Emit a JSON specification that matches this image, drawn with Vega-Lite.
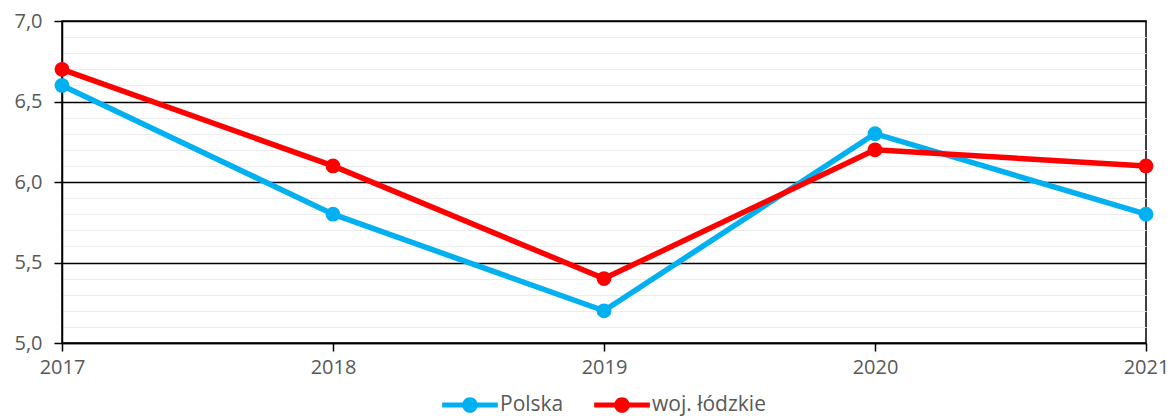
{
  "$schema": "https://vega.github.io/schema/vega-lite/v6.json",
  "width": 1084,
  "height": 322,
  "autosize": "none",
  "padding": {"left": 62, "top": 21, "right": 29, "bottom": 73},
  "background": "white",
  "config": {
    "view": {"stroke": "black", "strokeWidth": 1.5},
    "font": "Open Sans"
  },
  "data": {
    "values": [
      {"rok": 2017, "seria": "Polska", "wartosc": 6.6},
      {"rok": 2018, "seria": "Polska", "wartosc": 5.8},
      {"rok": 2019, "seria": "Polska", "wartosc": 5.2},
      {"rok": 2020, "seria": "Polska", "wartosc": 6.3},
      {"rok": 2021, "seria": "Polska", "wartosc": 5.8},
      {"rok": 2017, "seria": "woj. łódzkie", "wartosc": 6.7},
      {"rok": 2018, "seria": "woj. łódzkie", "wartosc": 6.1},
      {"rok": 2019, "seria": "woj. łódzkie", "wartosc": 5.4},
      {"rok": 2020, "seria": "woj. łódzkie", "wartosc": 6.2},
      {"rok": 2021, "seria": "woj. łódzkie", "wartosc": 6.1}
    ]
  },
  "mark": {"type": "line", "strokeWidth": 5.5, "point": {"filled": true, "size": 220, "opacity": 1}},
  "encoding": {
    "x": {
      "field": "rok",
      "type": "quantitative",
      "scale": {"domain": [2017, 2021], "nice": false, "zero": false},
      "axis": {
        "title": null,
        "values": [2017, 2018, 2019, 2020, 2021],
        "format": "d",
        "labelFlush": false,
        "grid": false,
        "domainColor": "black",
        "domainWidth": 1.5,
        "tickColor": "black",
        "tickWidth": 1.5,
        "tickSize": 8,
        "labelFontSize": 20,
        "labelColor": "#595959",
        "labelPadding": 6,
        "labelFont": "Open Sans"
      }
    },
    "y": {
      "field": "wartosc",
      "type": "quantitative",
      "scale": {"domain": [5, 7], "nice": false, "zero": false},
      "axis": {
        "title": null,
        "values": [5.0, 5.1, 5.2, 5.3, 5.4, 5.5, 5.6, 5.7, 5.8, 5.9, 6.0, 6.1, 6.2, 6.3, 6.4, 6.5, 6.6, 6.7, 6.8, 6.9, 7.0],
        "labelExpr": "abs(datum.value*2 - round(datum.value*2)) < 0.001 ? replace(format(datum.value, '.1f'), '.', ',') : ''",
        "labelFlush": false,
        "grid": true,
        "gridColor": {"condition": {"test": "abs(datum.value*2 - round(datum.value*2)) < 0.001", "value": "black"}, "value": "#ebebeb"},
        "gridWidth": {"condition": {"test": "abs(datum.value*2 - round(datum.value*2)) < 0.001", "value": 1.5}, "value": 1.2},
        "tickOpacity": {"condition": {"test": "abs(datum.value*2 - round(datum.value*2)) < 0.001", "value": 1}, "value": 0},
        "domainColor": "black",
        "domainWidth": 1.5,
        "tickColor": "black",
        "tickWidth": 1.5,
        "tickSize": 8,
        "labelFontSize": 20,
        "labelColor": "#595959",
        "labelPadding": 12,
        "labelFont": "Open Sans"
      }
    },
    "color": {
      "field": "seria",
      "type": "nominal",
      "scale": {"domain": ["Polska", "woj. łódzkie"], "range": ["#00B0F0", "#FF0000"]},
      "legend": {
        "title": null,
        "orient": "none",
        "legendX": 380,
        "legendY": 356,
        "direction": "horizontal",
        "labelFontSize": 21,
        "labelColor": "#595959",
        "labelFont": "Open Sans",
        "symbolType": "M -1 -0.09 L 1 -0.09 L 1 0.09 L -1 0.09 Z M -0.28 0 A 0.28 0.28 0 1 1 0.28 0 A 0.28 0.28 0 1 1 -0.28 0 Z",
        "symbolSize": 3100,
        "symbolStrokeWidth": 0,
        "labelOffset": 2,
        "columnPadding": 30,
        "encode": {"symbols": {"update": {"fill": {"scale": "color", "field": "value"}, "strokeWidth": {"value": 0}}}}
      }
    }
  }
}
